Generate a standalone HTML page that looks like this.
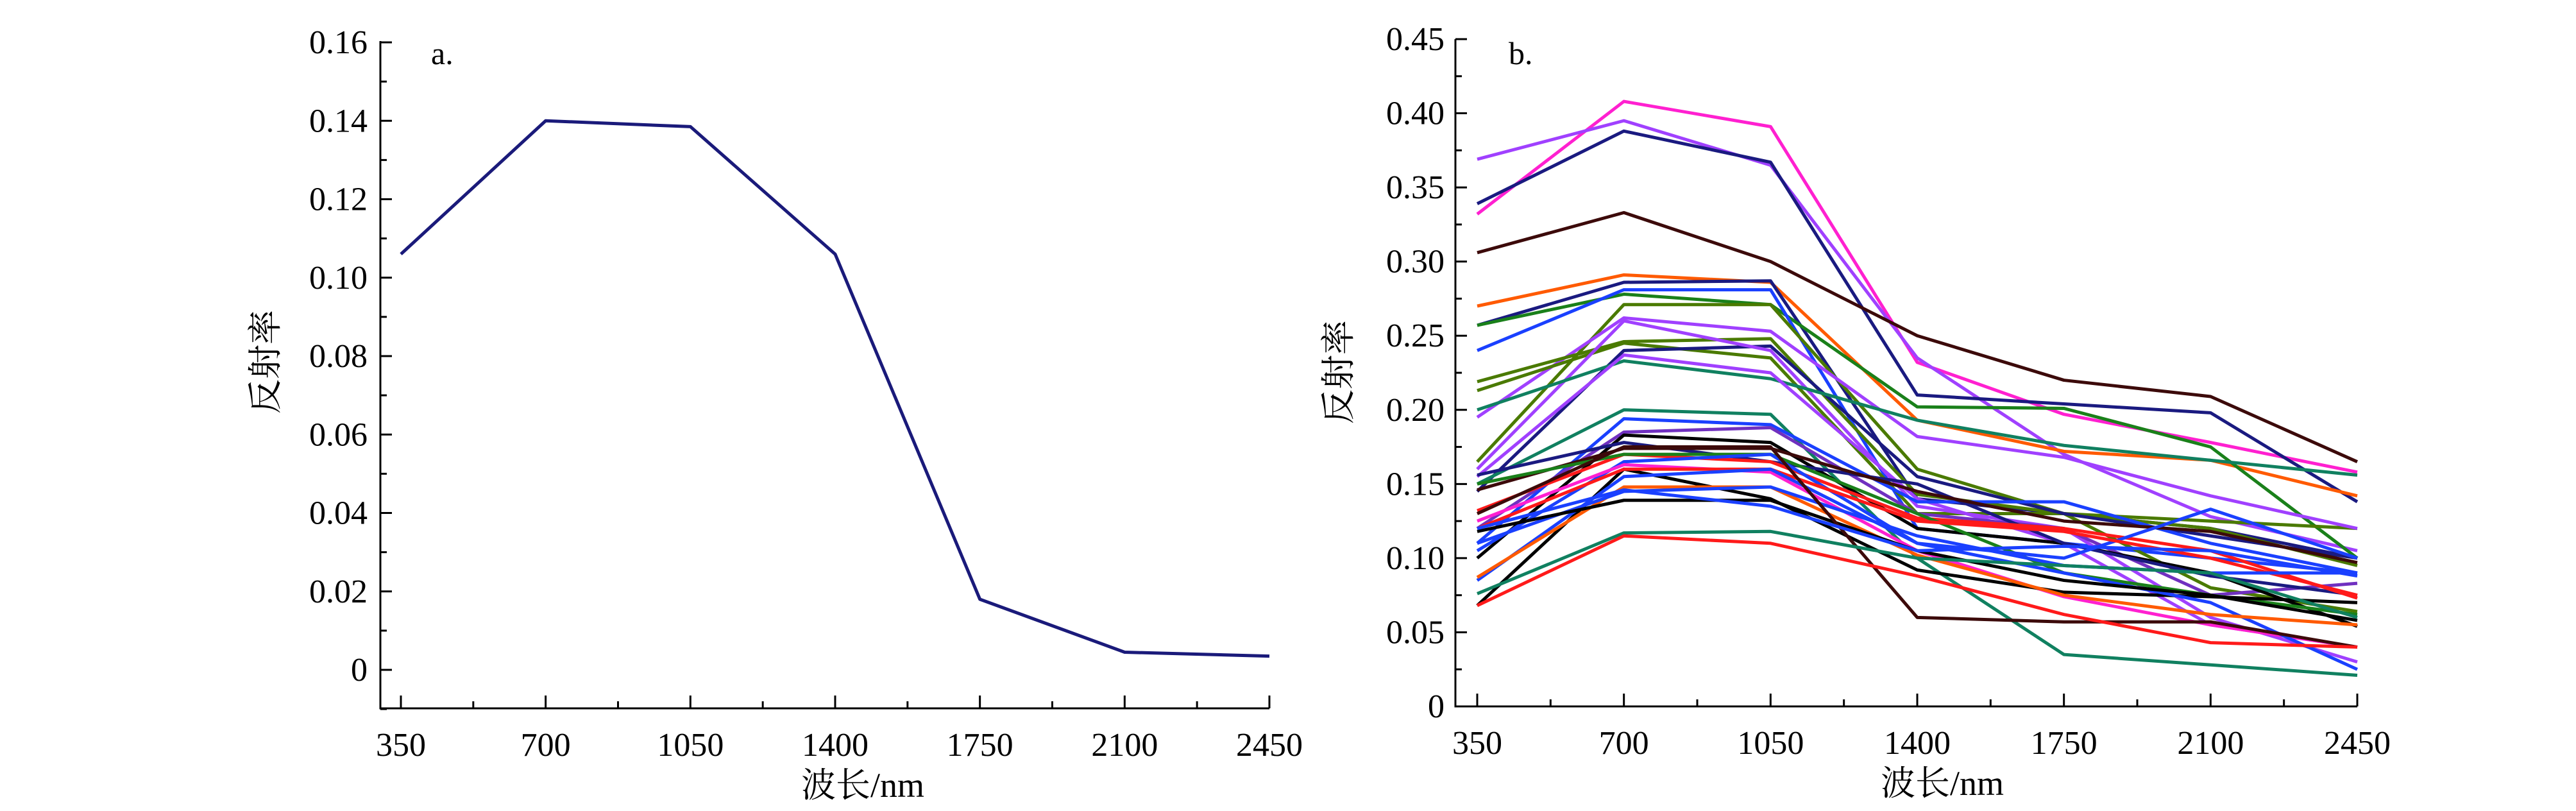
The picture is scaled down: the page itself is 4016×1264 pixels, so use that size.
<!DOCTYPE html>
<html><head><meta charset="utf-8"><style>
html,body{margin:0;padding:0;background:#fff;}
svg{display:block;}
text{font-family:"Liberation Serif","Noto Serif CJK SC",serif;fill:#000;}
</style></head><body>
<svg id="chart" width="4016" height="1264" viewBox="0 0 4016 1264" xmlns="http://www.w3.org/2000/svg">
<g id="pa"></g>
<g id="pb"></g>
</svg>
<script>
const wavelengths = [350,700,1050,1400,1750,2100,2450];
const xTickLabels = ["350","700","1050","1400","1750","2100","2450"];
const aValues = [0.106,0.140,0.1385,0.106,0.018,0.0045,0.0035];
const aYTicks = ["0","0.02","0.04","0.06","0.08","0.10","0.12","0.14","0.16"];
const bYTicks = ["0","0.05","0.10","0.15","0.20","0.25","0.30","0.35","0.40","0.45"];
const bColors = ["#ff20d0","#a040ff","#1a1a80","#3c0a0a","#ff5a00","#1a1a80","#1a801a","#1a40ff","#4a7a00","#a040ff","#4a7a00","#4a7a00","#1a1a80","#a040ff","#108060","#a040ff","#108060","#1a40ff","#7030c0","#000000","#1a1a80","#3c0a0a","#ff1a1a","#1a801a","#1a40ff","#ff20d0","#000000","#ff1a1a","#1a40ff","#ff5a00","#1a40ff","#000000","#3c0a0a","#108060","#ff1a1a","#1a40ff"];
const bSeries = [
[0.332,0.408,0.391,0.232,0.197,0.178,0.158],
[0.369,0.395,0.365,0.235,0.170,0.128,0.105],
[0.339,0.388,0.367,0.210,0.204,0.198,0.138],
[0.306,0.333,0.300,0.250,0.220,0.209,0.165],
[0.270,0.291,0.286,0.193,0.172,0.166,0.142],
[0.257,0.286,0.287,0.140,0.130,0.120,0.100],
[0.257,0.278,0.271,0.202,0.201,0.175,0.100],
[0.240,0.281,0.281,0.120,0.110,0.100,0.090],
[0.165,0.271,0.271,0.160,0.130,0.125,0.120],
[0.195,0.262,0.253,0.182,0.168,0.142,0.120],
[0.219,0.246,0.248,0.143,0.130,0.120,0.095],
[0.213,0.245,0.235,0.130,0.130,0.080,0.064],
[0.145,0.240,0.243,0.155,0.130,0.115,0.100],
[0.160,0.260,0.240,0.135,0.120,0.060,0.030],
[0.200,0.233,0.221,0.193,0.176,0.166,0.156],
[0.155,0.237,0.225,0.140,0.110,0.055,0.040],
[0.150,0.200,0.197,0.100,0.035,0.028,0.021],
[0.110,0.194,0.190,0.138,0.138,0.110,0.090],
[0.120,0.185,0.188,0.130,0.120,0.075,0.083],
[0.100,0.183,0.178,0.120,0.110,0.090,0.054],
[0.156,0.178,0.165,0.150,0.110,0.088,0.075],
[0.146,0.174,0.174,0.145,0.125,0.118,0.097],
[0.132,0.170,0.165,0.127,0.120,0.105,0.073],
[0.150,0.170,0.170,0.130,0.090,0.075,0.062],
[0.105,0.165,0.170,0.110,0.100,0.133,0.100],
[0.125,0.163,0.158,0.105,0.074,0.055,0.040],
[0.068,0.160,0.140,0.092,0.077,0.074,0.070],
[0.120,0.160,0.160,0.125,0.118,0.100,0.075],
[0.085,0.155,0.160,0.110,0.090,0.070,0.025],
[0.087,0.148,0.148,0.102,0.075,0.062,0.055],
[0.110,0.145,0.148,0.115,0.095,0.090,0.090],
[0.118,0.139,0.139,0.105,0.085,0.075,0.058],
[0.130,0.175,0.175,0.060,0.057,0.057,0.040],
[0.076,0.117,0.118,0.100,0.095,0.090,0.060],
[0.068,0.115,0.110,0.088,0.062,0.043,0.040],
[0.120,0.146,0.135,0.105,0.108,0.105,0.088]
];
const NS="http://www.w3.org/2000/svg";
function mk(parent,tag,attrs,txt){const e=document.createElementNS(NS,tag);for(const k in attrs)e.setAttribute(k,attrs[k]);if(txt!==undefined)e.textContent=txt;parent.appendChild(e);return e;}

function panel(g,cfg){
  const xs=v=>cfg.x0+(v-350)/(2450-350)*(cfg.x1-cfg.x0);
  const ys=v=>cfg.y0-(v-cfg.vmin)/(cfg.vmax-cfg.vmin)*(cfg.y0-cfg.y1);
  // axes
  const ax=mk(g,'path',{d:`M${cfg.axL},${cfg.axT} V${cfg.axB} H${cfg.x1}`,fill:'none',stroke:'#000','stroke-width':3});
  
  
  // y ticks
  cfg.yTicks.forEach((lab,i)=>{
    const v=cfg.vmin+i*cfg.step;const y=ys(v);
    const t=mk(g,'line',{x1:cfg.axL,x2:cfg.axL+18,y1:y,y2:y,stroke:'#000','stroke-width':3});
    
    
    const tx=mk(g,'text',{x:cfg.labR,y:y+17,'font-size':52,'text-anchor':'end'},lab);
    
    
    if(i<cfg.yTicks.length-1){const ym=ys(v+cfg.step/2);
      const m=mk(g,'line',{x1:cfg.axL,x2:cfg.axL+10,y1:ym,y2:ym,stroke:'#000','stroke-width':3});
      
      }
  });
  if(cfg.extraMinor){const ym=ys(cfg.vmin-cfg.step/2);const m=mk(g,'line',{x1:cfg.axL,x2:cfg.axL+10,y1:ym,y2:ym,stroke:'#000','stroke-width':3});
    
    }
  // x ticks
  wavelengths.forEach((w,i)=>{
    const x=xs(w);
    const t=mk(g,'line',{x1:x,x2:x,y1:cfg.axB,y2:cfg.axB-20,stroke:'#000','stroke-width':3});
    
    
    const tx=mk(g,'text',{x:x,y:cfg.axB+74,'font-size':52,'text-anchor':'middle'},xTickLabels[i]);
    
    
    if(i<wavelengths.length-1){const xm=xs(w+175);
      const m=mk(g,'line',{x1:xm,x2:xm,y1:cfg.axB,y2:cfg.axB-11,stroke:'#000','stroke-width':3});
      
      }
  });
  const xl=mk(g,'text',{x:cfg.xlabX,y:cfg.axB+138,'font-size':54,'text-anchor':'middle'},'波长/nm');
  
  
  const yl=mk(g,'text',{x:0,y:0,'font-size':54,'text-anchor':'middle',transform:`translate(${cfg.ylabX},${cfg.ylabY}) rotate(-90)`},'反射率');
  
  
  const pl=mk(g,'text',{x:cfg.tagX,y:100,'font-size':50},cfg.tag);
  
  
  return {xs,ys};
}

const a=panel(document.getElementById('pa'),{x0:625,x1:1979,axL:593,axT:64,axB:1104,y0:1044,y1:66,vmin:0,vmax:0.16,step:0.02,yTicks:aYTicks,labR:573,xlabX:1345,ylabX:432,ylabY:564,tag:'a.',tagX:672,extraMinor:true});
const pa=document.getElementById('pa');
const lineA=mk(pa,'polyline',{points:wavelengths.map((w,i)=>a.xs(w)+','+a.ys(aValues[i])).join(' '),fill:'none',stroke:'#1a1a7a','stroke-width':5,'stroke-linejoin':'round'});



const b=panel(document.getElementById('pb'),{x0:2303,x1:3675,axL:2269,axT:61,axB:1101,y0:1101,y1:61,vmin:0,vmax:0.45,step:0.05,yTicks:bYTicks,labR:2252,xlabX:3028,ylabX:2105,ylabY:580,tag:'b.',tagX:2352,extraMinor:false});
const pb=document.getElementById('pb');
bSeries.forEach((s,k)=>{
  const l=mk(pb,'polyline',{points:wavelengths.map((w,i)=>b.xs(w)+','+b.ys(s[i])).join(' '),fill:'none',stroke:bColors[k%bColors.length],'stroke-width':5,'stroke-linejoin':'round'});
  
  
});
</script>
</body></html>
